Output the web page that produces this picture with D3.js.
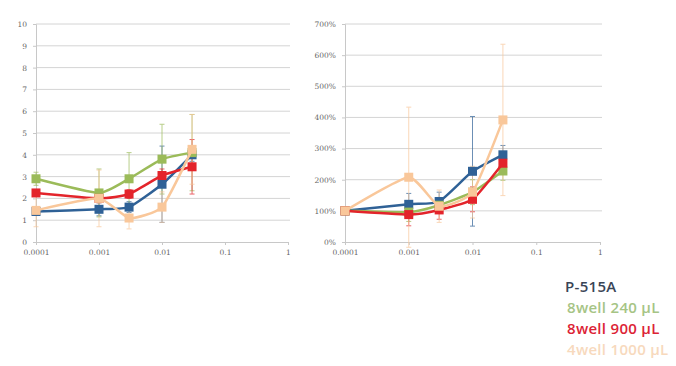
<!DOCTYPE html>
<html lang="en">
<head>
<meta charset="UTF-8">
<title>Dose response - P-515A</title>
<script src="https://d3js.org/d3.v7.min.js"></script>
<style>
  body { margin: 0; background: #fff; }
  svg { display: block; }
  .tick text { font-family: 'DejaVu Serif', serif; font-size: 7.5px; fill: #666; }
  .legend text { font-family: 'Open Sans', sans-serif; font-size: 15px; font-weight: 600; letter-spacing: 0.3px; }
</style>
</head>
<body>
<div id="chart"></div>
<script>
  // concentrations (x)
  const concentrations = [0.0001, 0.001, 0.003, 0.01, 0.03];
  const seriesNames = ["P-515A", "8well 240 \u00b5L", "8well 900 \u00b5L", "4well 1000 \u00b5L"];
  const seriesColors = ["#2f6196", "#9bbb59", "#e3242b", "#f9c79a"];
  const legendColors = ["#3a4556", "#a6c485", "#dc2335", "#f7d9bd"];

  // left panel: absolute values
  const absP515A = [1.4, 1.5, 1.6, 2.65, 4.0];
  const abs240 = [2.9, 2.25, 2.9, 3.8, 4.1];
  const abs900 = [2.25, 2.0, 2.2, 3.05, 3.45];
  const abs1000 = [1.45, 2.0, 1.1, 1.6, 4.25];
  const absErrP515A = [0.1, 0.3, 0.25, 1.75, 0.3];
  const absErr240 = [0.3, 1.1, 1.2, 1.6, 1.75];
  const absErr900 = [0.15, 0.2, 0.2, 0.3, 1.25];
  const absErr1000 = [0.75, 1.3, 0.5, 0.7, 1.6];

  // right panel: relative to lowest concentration (%)
  const relP515A = [100, 121, 130, 227, 280];
  const rel240 = [100, 96, 118, 160, 228];
  const rel900 = [100, 88, 103, 137, 253];
  const rel1000 = [100, 208, 115, 160, 392];
  const relErrP515A = [0, 35, 30, 176, 30];
  const relErr240 = [0, 30, 25, 40, 30];
  const relErr900 = [0, 36, 30, 40, 30];
  const relErr1000 = [0, 225, 52, 83, 243];

  const leftTicks = [0, 1, 2, 3, 4, 5, 6, 7, 8, 9, 10];
  const rightTicks = [0, 100, 200, 300, 400, 500, 600, 700];
  const xTicks = [0.0001, 0.001, 0.01, 0.1, 1];
  const xTickLabels = ["0.0001", "0.001", "0.01", "0.1", "1"];

  const W = 676, H = 366;
  const svg = d3.select("#chart").append("svg").attr("width", W).attr("height", H);
  svg.append("rect").attr("width", W).attr("height", H).attr("fill", "#fff");

  function panel(opts) {
    const x = d3.scaleLog().domain([0.0001, 1]).range(opts.xRange);
    const y = d3.scaleLinear().domain(opts.yDomain).range([242, 24]);
    const g = svg.append("g");

    // horizontal gridlines + y labels
    g.append("g").selectAll("line")
      .data(opts.yTicks.slice(1))
      .join("line")
      .attr("x1", opts.xRange[0]).attr("x2", opts.xRange[1] + 2)
      .attr("y1", d => y(d)).attr("y2", d => y(d))
      .attr("stroke", "#d4d4d4").attr("stroke-width", 1);
    g.append("g")
      .attr("transform", `translate(${opts.xRange[0]},0)`)
      .call(d3.axisLeft(y).tickValues(opts.yTicks).tickSize(3).tickFormat(opts.yFormat))
      .call(a => a.select(".domain").attr("stroke", "#c8c8c8"))
      .call(a => a.selectAll(".tick line").attr("stroke", "#c8c8c8"))
      .call(a => a.selectAll(".tick text").attr("x", -9));

    // x axis
    g.append("g")
      .attr("transform", "translate(0,242)")
      .call(d3.axisBottom(x).tickValues(xTicks).tickSize(3).tickFormat((d, i) => xTickLabels[i]))
      .call(a => a.select(".domain").attr("stroke", "#c8c8c8"))
      .call(a => a.selectAll(".tick line").attr("stroke", "#c8c8c8"))
      .call(a => a.selectAll(".tick text").attr("y", 8));

    const line = d3.line()
      .x((d, i) => x(concentrations[i]))
      .y(d => y(d))
      .curve(d3.curveCardinal.tension(0.5));

    opts.series.forEach((vals, s) => {
      const errs = opts.errors[s];
      const color = seriesColors[s];
      const eb = g.append("g").attr("stroke", color).attr("stroke-width", 1).attr("opacity", 0.7);
      vals.forEach((v, i) => {
        if (!errs[i]) return;
        const cx = x(concentrations[i]);
        eb.append("line").attr("x1", cx).attr("x2", cx).attr("y1", y(v - errs[i])).attr("y2", y(v + errs[i]));
        [v - errs[i], v + errs[i]].forEach(e => {
          eb.append("line").attr("x1", cx - 2.5).attr("x2", cx + 2.5).attr("y1", y(e)).attr("y2", y(e));
        });
      });
    });

    opts.series.forEach((vals, s) => {
      const color = seriesColors[s];
      g.append("path").datum(vals)
        .attr("d", line)
        .attr("fill", "none")
        .attr("stroke", color)
        .attr("stroke-width", 2.5);
      g.append("g").selectAll("rect")
        .data(vals)
        .join("rect")
        .attr("x", (d, i) => x(concentrations[i]) - 4.5)
        .attr("y", d => y(d) - 4.5)
        .attr("width", 9).attr("height", 9)
        .attr("fill", color);
    });
  }

  panel({
    xRange: [36, 288],
    yDomain: [0, 10],
    yTicks: leftTicks,
    yFormat: d => d,
    series: [absP515A, abs240, abs900, abs1000],
    errors: [absErrP515A, absErr240, absErr900, absErr1000]
  });

  panel({
    xRange: [345, 600],
    yDomain: [0, 700],
    yTicks: rightTicks,
    yFormat: d => d + "%",
    series: [relP515A, rel240, rel900, rel1000],
    errors: [relErrP515A, relErr240, relErr900, relErr1000]
  });

  const legend = svg.append("g").attr("class", "legend");
  seriesNames.forEach((name, i) => {
    legend.append("text")
      .attr("x", i === 0 ? 565 : 567)
      .attr("y", 292 + i * 21)
      .attr("fill", legendColors[i])
      .text(name);
  });
</script>
</body>
</html>
